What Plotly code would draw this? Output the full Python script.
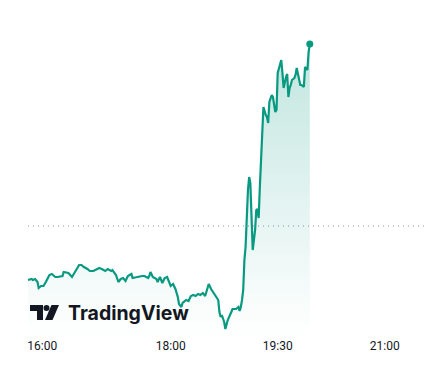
import plotly.graph_objects as go

# ---- data (bar index, value); previous close = 100 ----
bar_idx = [0, 3, 4, 6, 8, 9, 11, 13, 15, 18, 20, 23, 25, 29, 30, 33, 34, 37, 39, 41,
           43, 45, 47, 50, 52, 55, 58, 60, 62, 65, 67, 70, 71, 74, 76, 78, 80, 82, 84, 87,
           88, 91, 92, 96, 98, 101, 102, 103, 105, 108, 109, 111, 113, 115, 117, 119, 120, 122, 124, 126,
           127, 129, 130, 133, 135, 137, 139, 141, 143, 145, 147, 149, 151, 152, 154, 156, 158, 160, 161, 162,
           163, 165, 166, 168, 171, 172, 175, 177, 178, 179, 180, 181, 182, 183, 185, 186, 187, 188, 189, 191,
           192, 193, 194, 195, 196, 197, 198, 200, 201, 202, 203, 205, 206, 208, 209, 210, 211, 213, 214, 215,
           217, 218, 219, 220, 221, 222, 224, 225, 226, 227, 229, 230, 232, 233, 235, 236, 237]
price = [97.30, 97.35, 97.30, 97.35, 97.20, 96.90, 97.00, 97.00, 97.20, 97.55, 97.60, 97.45, 97.45, 97.50, 97.70, 97.65, 97.65, 97.45, 97.65, 97.80,
         98.05, 98.05, 97.95, 97.85, 97.75, 97.75, 97.85, 97.90, 97.85, 97.75, 97.85, 97.75, 97.80, 97.55, 97.20, 97.35, 97.40, 97.25, 97.50, 97.60,
         97.40, 97.45, 97.45, 97.50, 97.50, 97.40, 97.50, 97.70, 97.45, 97.35, 97.20, 97.45, 97.15, 97.40, 97.45, 97.10, 97.00, 97.10, 96.85, 96.45,
         96.10, 95.95, 96.15, 96.30, 96.25, 96.50, 96.55, 96.50, 96.60, 96.55, 96.65, 96.50, 96.90, 97.10, 96.85, 96.65, 96.45, 96.30, 95.70, 95.45,
         95.55, 95.20, 94.85, 95.30, 95.70, 95.85, 95.85, 95.95, 95.75, 95.95, 96.30, 96.80, 98.30, 98.95, 101.80, 102.45, 102.15, 100.45, 98.80, 99.80,
         100.80, 100.85, 100.40, 101.95, 103.55, 105.15, 105.95, 105.55, 105.45, 105.15, 106.20, 106.55, 106.45, 105.70, 105.80, 107.65, 107.90, 108.30, 107.65, 106.90,
         107.45, 107.60, 106.45, 106.90, 107.05, 107.30, 107.40, 107.55, 107.90, 107.55, 107.05, 107.05, 106.95, 107.95, 107.80, 108.70, 109.10]
prev_close = 100.0
tick_idx = [12, 120, 210, 300]
tick_labels = ["16:00", "18:00", "19:30", "21:00"]

W, H = 426, 375
PLOT_BOTTOM = 337  # pixel row of plot-area bottom
X_RANGE = [-23.55, 334.74]
Y_RANGE = [94.45, 111.3]

GREEN = "#089981"


def px(x):
    return x / W


def py(y):
    return (PLOT_BOTTOM - y) / PLOT_BOTTOM


fig = go.Figure()
fig.add_trace(go.Scatter(
    x=bar_idx, y=price, mode="lines",
    line=dict(color=GREEN, width=2.2),
    fill="tozeroy",
    fillgradient=dict(type="vertical", start=Y_RANGE[0], stop=max(price),
                      colorscale=[[0, "rgba(8,153,129,0.0)"], [1, "rgba(8,153,129,0.25)"]]),
    hoverinfo="skip", showlegend=False,
))
fig.add_trace(go.Scatter(
    x=[bar_idx[-1]], y=[price[-1]], mode="markers",
    marker=dict(color=GREEN, size=7),
    hoverinfo="skip", showlegend=False,
))

shapes = [dict(type="line", xref="x", yref="y", x0=bar_idx[0], x1=X_RANGE[1],
               y0=prev_close, y1=prev_close,
               line=dict(color="#8f939c", width=1, dash="1px,4px"), layer="below")]


def path(pts):
    return "M " + " L ".join(f"{px(a):.5f},{py(b):.5f}" for a, b in pts) + " Z"


# TradingView logo icon
shapes.append(dict(type="path", xref="paper", yref="paper",
                   path=path([(30, 305), (43, 305), (43, 320), (37, 320), (37, 311), (30, 311)]),
                   fillcolor="#131722", line=dict(width=0)))
shapes.append(dict(type="circle", xref="paper", yref="paper",
                   x0=px(43.5), x1=px(49.5), y0=py(305), y1=py(311),
                   fillcolor="#131722", line=dict(width=0)))
shapes.append(dict(type="path", xref="paper", yref="paper",
                   path=path([(51.5, 305), (59, 305), (52.5, 320), (45, 320)]),
                   fillcolor="#131722", line=dict(width=0)))

fig.update_layout(
    width=W, height=H,
    margin=dict(l=0, r=0, t=0, b=H - PLOT_BOTTOM),
    paper_bgcolor="white", plot_bgcolor="white",
    shapes=shapes,
    annotations=[dict(text="<b>TradingView</b>", xref="paper", yref="paper",
                      x=px(66), y=py(313), xanchor="left", yanchor="middle",
                      showarrow=False,
                      font=dict(family="Inter", size=19.5, color="#131722"))],
    xaxis=dict(range=X_RANGE, tickvals=tick_idx, ticktext=tick_labels,
               showgrid=False, zeroline=False, showline=False, ticks="",
               tickfont=dict(family="Roboto", size=12, color="#131722"), fixedrange=True),
    yaxis=dict(range=Y_RANGE, visible=False, showgrid=False, zeroline=False, fixedrange=True),
)

fig.write_html("out.html", config={"displayModeBar": False},
               post_script="document.body.style.margin='0';")
